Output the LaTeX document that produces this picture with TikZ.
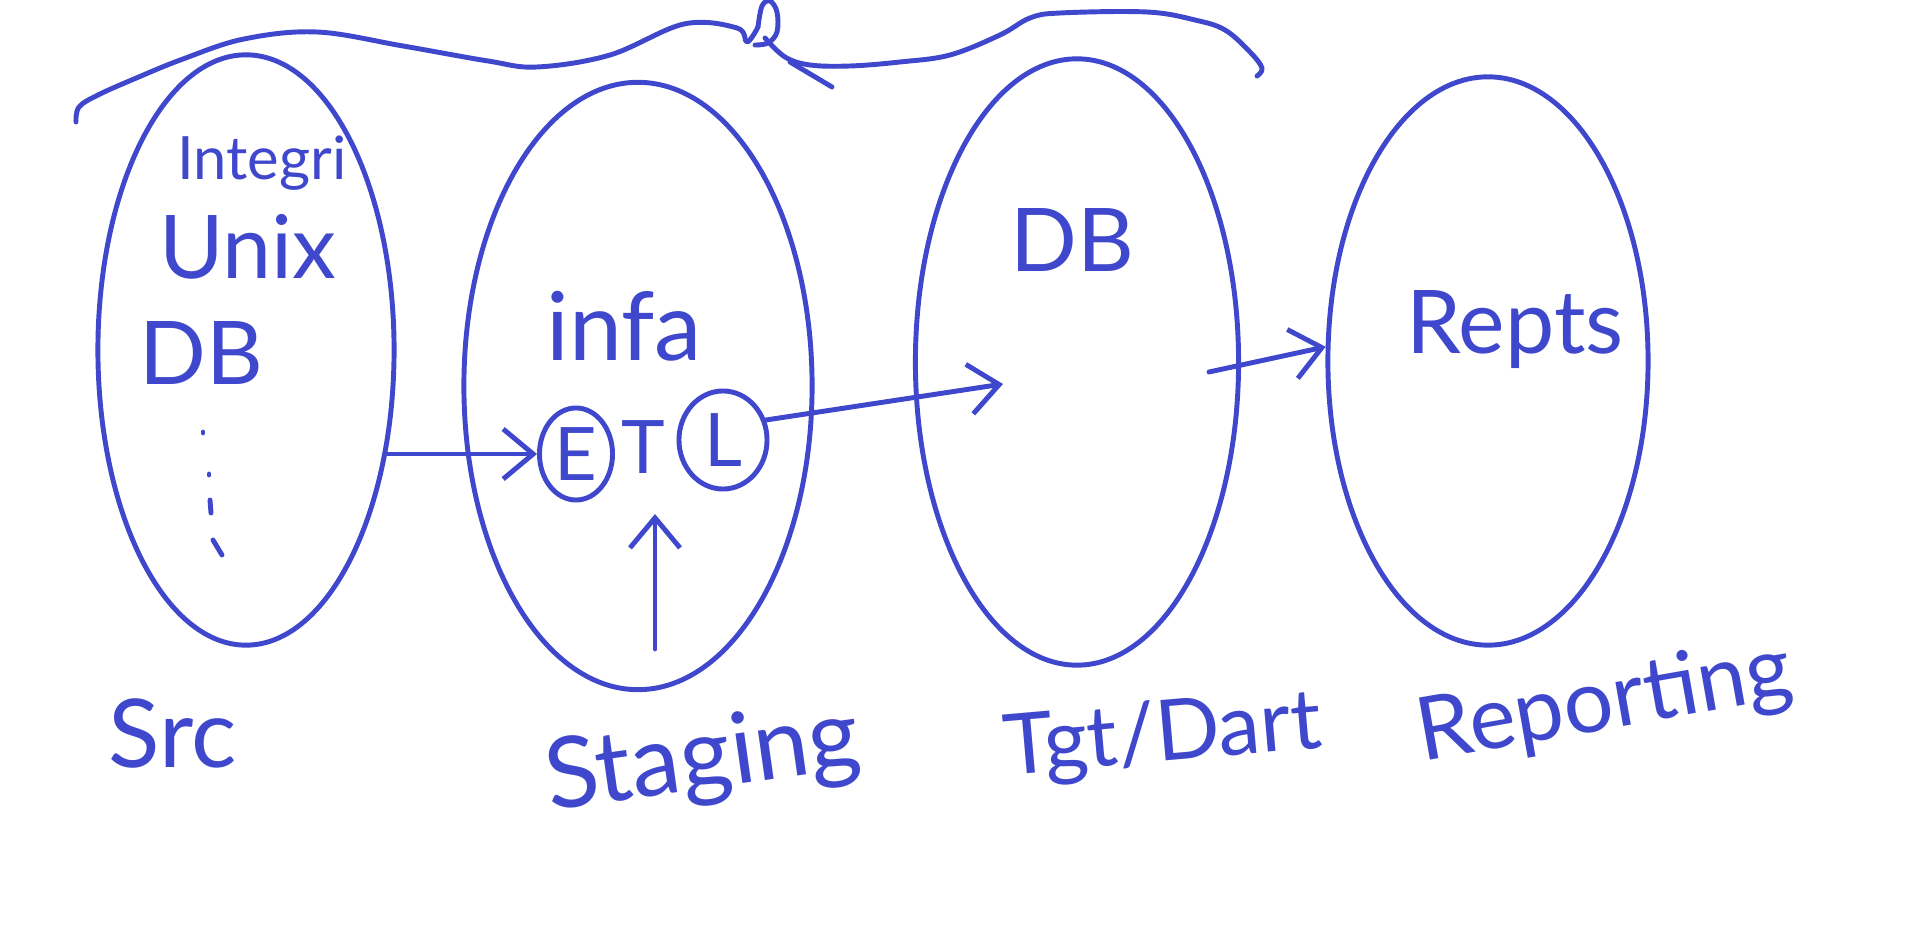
\documentclass[tikz,border=0pt]{standalone}
\usepackage{fontspec}
\setmainfont{Lato}
\usetikzlibrary{arrows.meta,calc,shapes.geometric}
\definecolor{ink}{HTML}{3F48CC}
\tikzset{hand/.style={draw=ink,line width=1.4pt,line cap=round,line join=round},
         vec/.style={hand,-{Straight Barb[length=3mm,width=5mm]}},
         blob/.style={hand,ellipse,inner sep=0pt,text=ink},
         txt/.style={text=ink,font=\fontsize{25}{28}\selectfont}}

\begin{document}
\begin{tikzpicture}[x=.01cm,y=-.01cm]
  \useasboundingbox (0,0) rectangle (1914,937);
  \node[blob,minimum width=2.96cm,minimum height=5.9cm] (src) at (246,350) {};
  \node[blob,minimum width=3.48cm,minimum height=6.07cm] (stg) at (638,386) {};
  \node[blob,minimum width=3.23cm,minimum height=6.06cm] (tgt) at (1077,362) {};
  \node[blob,minimum width=3.2cm,minimum height=5.68cm] (rpt) at (1488,361) {};
  \node[txt,font=\fontsize{17}{19}\selectfont] (integ) at (262,163) {Integri};
  \node[txt] (unix) at (248,247) {Unix};
  \node[txt] (srcdb) at (201,353) {DB};
  \node[txt,font=\fontsize{27}{30}\selectfont] (srclbl) at (173,733) {Src};
  \node[txt,font=\fontsize{27}{30}\selectfont] (infa) at (624,326) {infa};
  \node[blob,minimum width=.73cm,minimum height=.92cm,
    font=\fontsize{21}{22}\selectfont] (e) at (576,454) {E};
  \node[txt,font=\fontsize{21}{22}\selectfont] (t) at (643,447) {T};
  \node[blob,minimum width=.88cm,minimum height=.98cm,
    font=\fontsize{21}{22}\selectfont] (l) at (723,440) {L};
  \node[txt,rotate=8,font=\fontsize{28}{30}\selectfont] (stglbl) at (703,762)
    {Staging};
  \node[txt] (tgtdb) at (1072,240) {DB};
  \node[txt,rotate=5,font=\fontsize{24}{26}\selectfont] (tgtlbl) at (1163,738)
    {Tgt/Dart};
  \node[txt] (repts) at (1515,330) {Repts};
  \node[txt,rotate=10] (rptlbl) at (1605,705) {Reporting};
  \coordinate (dbin) at (1003,384);
  \coordinate (dbout) at (1209,372);
  \coordinate (feed) at (655,649);
  \draw[vec] (e.west -| src.-35) -- (e.west);
  \draw[vec] (l.25) -- (dbin);
  \draw[vec] (dbout) -- (rpt.175);
  \draw[vec,shorten >=8pt] (feed) -- (feed |- t.south);
  \foreach \xa/\ya/\xb/\yb in {203/432/203/433,209/474/209/475,
    210/500/211/513,213/540/222/555}
    \draw[hand] (\xa,\ya) -- (\xb,\yb);
  \draw[hand] plot[smooth,tension=.6] coordinates {(76,122) (79,107) (98,95)
    (134,79) (183,59) (244,39) (317,32) (403,46) (488,61) (537,67) (610,55)
    (684,24) (737,28) (747,42) (758,27)};
  \draw[hand] plot[smooth,tension=.6] coordinates {(758,27) (762,6) (770,1)
    (777,12) (777,32) (768,43) (755,45)};
  \draw[hand] plot[smooth,tension=.6] coordinates {(765,38) (785,57) (810,65)
    (850,66) (900,62) (950,55) (1000,35) (1030,18) (1060,13) (1147,12)
    (1195,20) (1225,30) (1250,52) (1262,68) (1257,76)};
  \draw[hand] (790,62) -- (832,87);
\end{tikzpicture}
\end{document}
